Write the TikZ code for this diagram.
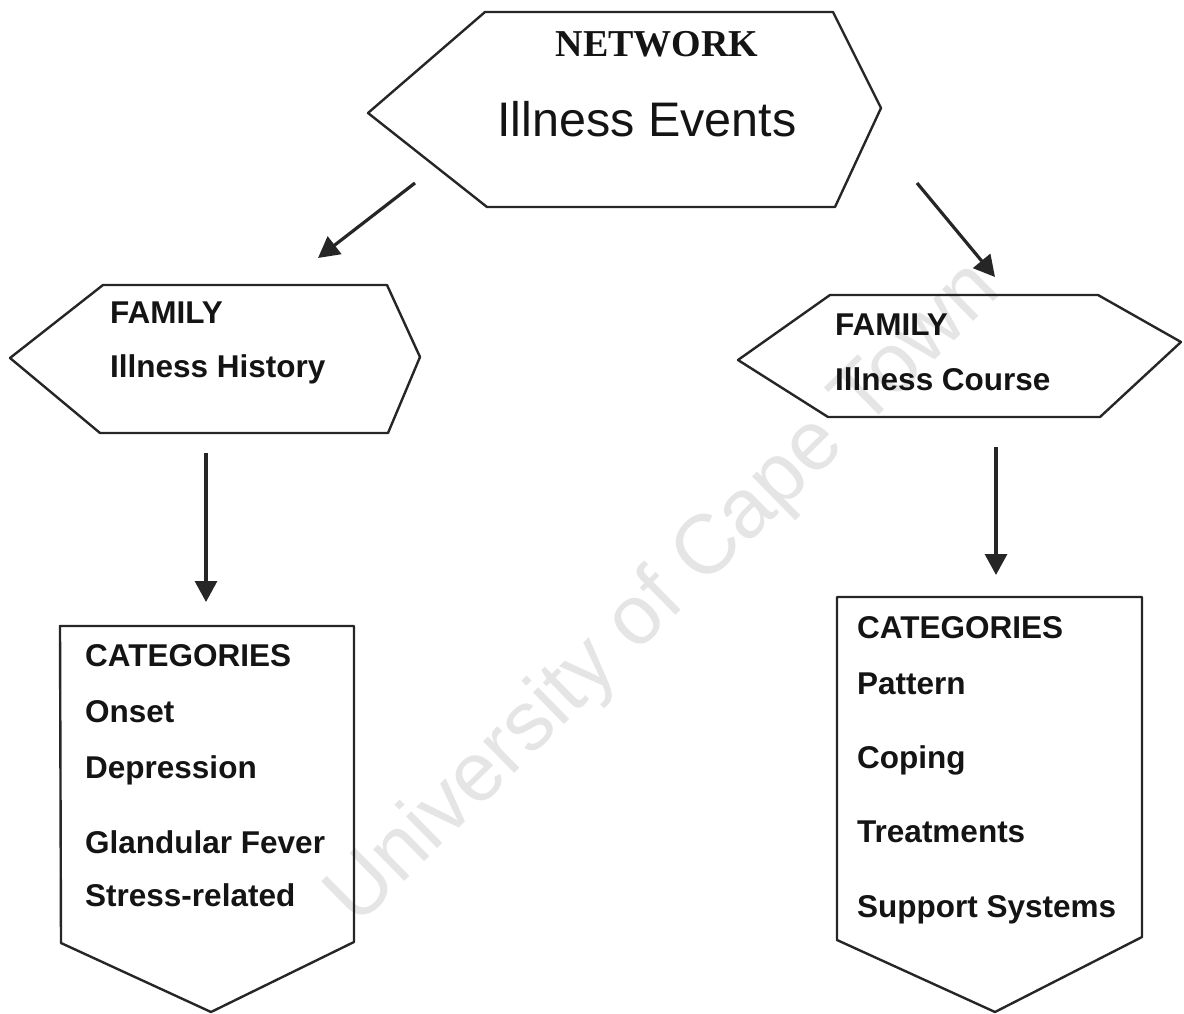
\documentclass[tikz,border=0pt]{standalone}
\usepackage{fontspec}
\setmainfont{Liberation Sans}
\newfontfamily\serifbf{Liberation Serif}
\usetikzlibrary{arrows.meta}
\tikzset{
  outline/.style={draw=black!85, line width=2.4pt, line join=round},
  lbl/.style={anchor=base west, inner sep=0pt, text=black!92, font=\bfseries\fontsize{31.5}{36}\selectfont},
  arr/.style={-{Triangle[length=21pt,width=22pt]}, line width=3.2pt, draw=black!85, fill=black!85},
  wmark/.style={text=black!10, font=\fontsize{84}{84}\selectfont, inner sep=0pt},
}
\begin{document}
\begin{tikzpicture}[x=1pt,y=-1pt]
\useasboundingbox (0,0) rectangle (1184,1014);
% watermark
\node[wmark, rotate=44.5] (wm) at (665,595) {University of Cape Town};
% top hexagon
\draw[outline] (368,113) -- (485,12) -- (833,12) -- (881,108) -- (835,207) -- (487,207) -- cycle;
\node[anchor=base, inner sep=0pt, font=\serifbf\bfseries\fontsize{38}{42}\selectfont, text=black!92] (net) at (657,57) {NETWORK};
\node[anchor=base west, inner sep=0pt, font=\fontsize{48.5}{52}\selectfont, text=black!92] (ie) at (497,137) {Illness Events};
% left family hexagon
\draw[outline] (10,358) -- (103,285) -- (387,285) -- (420,357) -- (388,433) -- (100,433) -- cycle;
\node[lbl] (lf1) at (110,323) {FAMILY};
\node[lbl] (lf2) at (110,377) {Illness History};
% right family hexagon
\draw[outline] (738,360) -- (830,295) -- (1098,295) -- (1181,342) -- (1100,417) -- (828,417) -- cycle;
\node[lbl] (rf1) at (835,335) {FAMILY};
\node[lbl] (rf2) at (835,390) {Illness Course};
% left categories
\draw[outline] (60,626) -- (354,626) -- (354,942) -- (211,1012) -- (61,943) -- cycle;
\node[lbl] (lc0) at (85,666) {CATEGORIES};
\node[lbl] (lc1) at (85,722) {Onset};
\node[lbl] (lc2) at (85,778) {Depression};
\node[lbl] (lc3) at (85,853) {Glandular Fever};
\node[lbl] (lc4) at (85,906) {Stress-related};
% right categories
\draw[outline] (837,597) -- (1142,597) -- (1142,937) -- (995,1012) -- (837,940) -- cycle;
\node[lbl] (rc0) at (857,638) {CATEGORIES};
\node[lbl] (rc1) at (857,694) {Pattern};
\node[lbl] (rc2) at (857,768) {Coping};
\node[lbl] (rc3) at (857,842) {Treatments};
\node[lbl] (rc4) at (857,917) {Support Systems};
% arrows
\coordinate (a1s) at (415,183); \coordinate (a1e) at (318,258);
\coordinate (a2s) at (917,183); \coordinate (a2e) at (995,277);
\coordinate (a3s) at (206,453); \coordinate (a3e) at (206,602);
\coordinate (a4s) at (996,447); \coordinate (a4e) at (996,575);
\draw[arr] (a1s) -- (a1e);
\draw[arr] (a2s) -- (a2e);
\draw[arr] (a3s) -- (a3e);
\draw[arr] (a4s) -- (a4e);
\end{tikzpicture}
\end{document}
